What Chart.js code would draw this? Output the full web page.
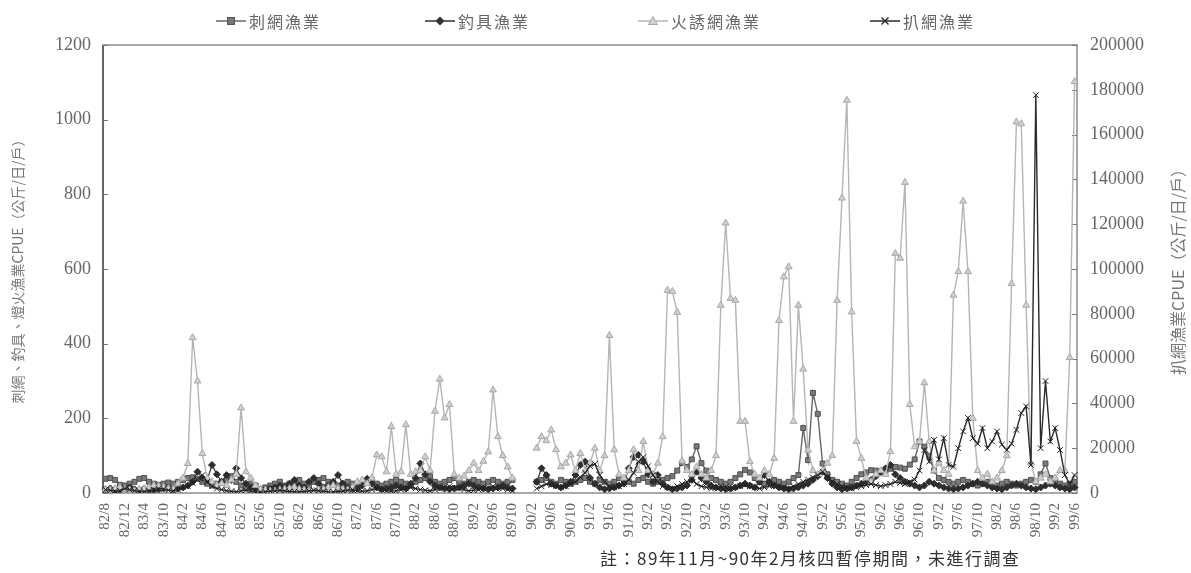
<!DOCTYPE html>
<html lang="zh-Hant">
<head>
<meta charset="utf-8">
<title>各漁業CPUE變動</title>
<script src="https://cdn.jsdelivr.net/npm/chart.js@4.4.1/dist/chart.umd.min.js"></script>
<style>
  html, body { margin: 0; padding: 0; background: #fff; }
  #wrap { position: relative; width: 1191px; height: 573px; overflow: hidden; }
  #chart { position: absolute; left: 0; top: 0; }
  .legend-item { position: absolute; top: 9px; display: flex; align-items: center; font-family: "Noto Sans CJK TC", sans-serif; font-size: 16px; letter-spacing: 2px; color: #666; white-space: nowrap; }
  .legend-item svg { margin-right: 3px; }
  #note { position: absolute; left: 600px; top: 545px; font-family: "Noto Sans CJK TC", sans-serif; font-size: 17px; letter-spacing: 1.5px; color: #333; white-space: nowrap; }
</style>
</head>
<body>
<div id="wrap">
  <canvas id="chart" width="1191" height="573"></canvas>
  <div id="legend"></div>
  <div id="note">註：89年11月~90年2月核四暫停期間，未進行調查</div>
</div>
<script>
(function() {
  'use strict';

  // months without a sample (besides the 89/11-90/2 break, which stays as empty slots)
  var skipMonths = ['83/8', '83/9'];
  var monthLabels = [];
  (function() {
    var y = 82, m = 8;
    while (y < 99 || (y === 99 && m <= 6)) {
      var lab = y + '/' + m;
      if (skipMonths.indexOf(lab) < 0) monthLabels.push(lab);
      m++;
      if (m > 12) { m = 1; y++; }
    }
  })();

  // 刺網漁業 (公斤/日/戶)
  var gillNetCpue = [
    38, 40, 35, 22, 20, 25, 30, 38, 40, 30,
    25, 22, 25, 28, 25, 30, 35, 40, 42, 38,
    30, 25, 20, 25, 30, 35, 45, 30, 20, 15,
    25, 20, 10, 15, 20, 25, 30, 20, 25, 30,
    35, 25, 20, 30, 35, 40, 30, 25, 20, 25,
    30, 25, 20, 25, 30, 35, 25, 20, 25, 30,
    35, 30, 25, 20, 30, 35, 40, 45, 30, 25,
    30, 35, 40, 30, 25, 30, 35, 30, 25, 30,
    35, 30, 25, 30, 35, null, null, null, null, 30,
    35, 40, 30, 25, 35, 30, 25, 30, 35, 40,
    30, 25, 35, 30, 25, 30, 40, 35, 30, 25,
    35, 40, 30, 25, 30, 35, 40, 45, 60, 80,
    70, 90, 125, 80, 60, 40, 35, 30, 25, 30,
    40, 50, 62, 55, 40, 30, 25, 30, 35, 30,
    25, 30, 40, 48, 174, 88, 268, 212, 79, 50,
    35, 30, 25, 20, 30, 40, 50, 55, 61, 60,
    55, 60, 65, 70, 68, 65, 76, 90, 138, 124,
    100, 60, 40, 35, 30, 25, 30, 35, 30, 25,
    20, 25, 30, 25, 20, 25, 30, 25, 20, 25,
    30, 35, 30, 50, 79, 40, 30, 25, 20, 25,
    30
  ];

  // 釣具漁業
  var hookLineCpue = [
    10, 12, 8, 10, 12, 15, 10, 8, 12, 10,
    8, 10, 12, 15, 10, 12, 15, 20, 30, 57,
    40, 35, 75, 50, 30, 48, 35, 66, 40, 25,
    15, 10, 8, 10, 12, 15, 20, 15, 25, 35,
    20, 15, 30, 40, 25, 15, 20, 30, 48, 25,
    15, 10, 12, 20, 38, 25, 15, 10, 12, 15,
    20, 15, 12, 25, 40, 79, 50, 30, 20, 15,
    12, 10, 12, 15, 20, 25, 20, 15, 12, 10,
    12, 15, 20, 15, 12, null, null, null, null, 30,
    66, 48, 25, 20, 15, 20, 30, 48, 75, 84,
    40, 25, 15, 10, 12, 15, 20, 25, 66, 97,
    102, 84, 50, 30, 48, 25, 15, 10, 12, 15,
    20, 35, 57, 40, 30, 20, 15, 12, 10, 12,
    15, 20, 25, 20, 15, 30, 48, 30, 20, 15,
    12, 10, 12, 15, 20, 25, 35, 45, 57, 40,
    25, 15, 10, 12, 15, 20, 25, 30, 35, 45,
    57, 66, 75, 50, 40, 30, 25, 20, 15, 20,
    30, 25, 20, 15, 12, 10, 12, 15, 20, 25,
    30, 25, 20, 15, 12, 10, 15, 20, 25, 20,
    15, 12, 10, 15, 20, 25, 20, 15, 12, 10,
    15
  ];

  // 火誘網漁業
  var fireNetCpue = [
    10, 8, 12, 15, 10, 8, 6, 10, 12, 15,
    20, 18, 15, 12, 10, 25, 40, 79, 416, 300,
    106, 40, 30, 20, 25, 20, 35, 50, 228, 57,
    40, 20, 10, 8, 5, 5, 8, 10, 12, 15,
    10, 8, 5, 5, 8, 10, 15, 20, 12, 10,
    8, 15, 30, 35, 25, 40, 102, 97, 57, 178,
    50, 57, 183, 50, 57, 60, 97, 60, 219, 305,
    201, 237, 50, 40, 45, 60, 80, 60, 85, 110,
    276, 151, 100, 70, 40, null, null, null, null, 120,
    151, 140, 169, 116, 70, 80, 102, 60, 106, 60,
    80, 120, 60, 100, 422, 116, 50, 40, 60, 116,
    60, 138, 60, 50, 80, 151, 543, 540, 484, 86,
    60, 50, 70, 50, 40, 60, 100, 503, 723, 521,
    516, 192, 192, 84, 50, 40, 60, 50, 93, 462,
    579, 606, 192, 503, 332, 115, 60, 50, 60, 80,
    100, 516, 790, 1052, 485, 138, 93, 40, 30, 50,
    60, 50, 111, 642, 629, 832, 237, 124, 138, 295,
    138, 60, 80, 60, 50, 530, 593, 782, 593, 200,
    60, 40, 50, 30, 40, 60, 100, 561, 994, 989,
    503, 80, 30, 40, 50, 30, 40, 60, 60, 363,
    1102
  ];

  // 扒網漁業 (right axis)
  var purseSeineCpue = [
    1500, 1200, 800, 1000, 2000, 1500, 1000, 800, 600, 1000,
    1500, 2000, 1800, 1200, 1000, 1500, 2500, 3000, 4500, 6000,
    8000, 5000, 3000, 2000, 1500, 1000, 800, 600, 1000, 1200,
    800, 500, 400, 600, 800, 1000, 1200, 900, 700, 600,
    500, 700, 900, 1200, 1000, 800, 600, 500, 700, 900,
    1200, 1500, 1000, 800, 1000, 1500, 2000, 1500, 1000, 800,
    1000, 1500, 2000, 2500, 2000, 1500, 1200, 1000, 1500, 2000,
    2500, 3000, 2500, 2000, 1500, 1000, 1200, 1500, 2000, 2500,
    3000, 2500, 2000, 1500, 1000, null, null, null, null, 2000,
    3000, 4000, 3500, 3000, 2500, 3000, 4000, 5000, 7000, 9000,
    12000, 13000, 8000, 5000, 3000, 2500, 3000, 4000, 6000, 9000,
    14000, 16000, 12000, 8000, 5000, 3000, 2500, 2000, 3000, 4000,
    5000, 6000, 4000, 3000, 2500, 2000, 2500, 3000, 2500, 2000,
    2500, 3000, 3500, 3000, 2500, 2000, 2500, 3000, 3500, 3000,
    2500, 2000, 3000, 4000, 5000, 6000, 7000, 8000, 9500, 7000,
    5000, 4000, 3000, 2500, 2000, 2500, 3000, 3500, 4000, 3500,
    3000, 3500, 4000, 5000, 4500, 4000, 5000, 6000, 10000, 19200,
    14000, 23700, 15000, 24500, 12500, 11700, 20000, 27500, 33500, 24500,
    22000, 29000, 20000, 23000, 27500, 21600, 19200, 22000, 28200, 35700,
    38700, 12500, 177600, 20000, 50000, 23000, 29000, 19200, 8000, 4000,
    8000
  ];

  var seriesNames = ['刺網漁業', '釣具漁業', '火誘網漁業', '扒網漁業'];
  var leftTitle = '刺網、釣具、燈火漁業CPUE（公斤/日/戶）';
  var rightTitle = '扒網漁業CPUE（公斤/日/戶）';

  [gillNetCpue, hookLineCpue, fireNetCpue, purseSeineCpue].forEach(function(arr, i) {
    if (arr.length !== monthLabels.length) {
      throw new Error('length mismatch ' + seriesNames[i] + ': ' + arr.length + ' vs ' + monthLabels.length);
    }
  });

  var styles = [
    { line: '#666666', fill: '#7a7a7a', edge: '#505050', point: 'rect', radius: 3.5, width: 1.4 },
    { line: '#333333', fill: '#2e2e2e', edge: '#2e2e2e', point: 'rectRot', radius: 3.5, width: 1.2 },
    { line: '#b5b5b5', fill: '#cfcfcf', edge: '#a8a8a8', point: 'triangle', radius: 4, width: 1.4 },
    { line: '#2a2a2a', fill: '#2a2a2a', edge: '#1e1e1e', point: 'crossRot', radius: 4, width: 1.4 }
  ];
  var legendLeft = [216, 425, 638, 870];
  var legendIcons = [
    '<rect x="11.5" y="3.5" width="7" height="7" fill="#777" stroke="#555"/>',
    '<polygon points="15,2.5 19.5,7 15,11.5 10.5,7" fill="#333"/>',
    '<polygon points="15,2.5 19.5,10.5 10.5,10.5" fill="#d0d0d0" stroke="#aaa"/>',
    '<path d="M11.5 3.5 L18.5 10.5 M18.5 3.5 L11.5 10.5" stroke="#222" stroke-width="1.3"/>'
  ];

  function renderLegend() {
    var box = document.getElementById('legend');
    box.innerHTML = seriesNames.map(function(name, i) {
      return '<div class="legend-item" style="left:' + legendLeft[i] + 'px">' +
        '<svg width="30" height="14" viewBox="0 0 30 14"><line x1="0" y1="7" x2="30" y2="7" stroke="' + styles[i].line + '" stroke-width="1.5"/>' + legendIcons[i] + '</svg>' +
        '<span>' + name + '</span></div>';
    }).join('');
  }

  function makeDataset(label, data, st, axis, order) {
    return {
      label: label,
      data: data,
      yAxisID: axis,
      order: order,
      borderColor: st.line,
      borderWidth: st.width,
      backgroundColor: st.fill,
      pointStyle: st.point,
      pointRadius: st.radius,
      pointBackgroundColor: st.fill,
      pointBorderColor: st.edge,
      pointBorderWidth: 1,
      pointHoverRadius: st.radius,
      tension: 0,
      spanGaps: false,
      fill: false
    };
  }

  function plainNumber(value) {
    return String(value);
  }

  var framePlugin = {
    id: 'frame',
    beforeDatasetsDraw: function(chart) {
      var a = chart.chartArea;
      var ctx = chart.ctx;
      ctx.save();
      ctx.strokeStyle = '#8c8c8c';
      ctx.lineWidth = 1.5;
      ctx.strokeRect(a.left, a.top, a.right - a.left, a.bottom - a.top);
      ctx.strokeStyle = '#666';
      ctx.lineWidth = 2;
      ctx.beginPath();
      ctx.moveTo(a.left, a.top);
      ctx.lineTo(a.left, a.bottom);
      ctx.stroke();
      // small inward tick marks
      ctx.strokeStyle = '#777';
      ctx.lineWidth = 1;
      ctx.beginPath();
      chart.scales.y.ticks.forEach(function(t) {
        var py = Math.round(chart.scales.y.getPixelForValue(t.value)) + 0.5;
        ctx.moveTo(a.left, py);
        ctx.lineTo(a.left + 5, py);
      });
      chart.scales.y1.ticks.forEach(function(t) {
        var py = Math.round(chart.scales.y1.getPixelForValue(t.value)) + 0.5;
        ctx.moveTo(a.right - 5, py);
        ctx.lineTo(a.right, py);
      });
      ctx.stroke();
      ctx.restore();
    },
    afterDraw: function(chart) {
      var ctx = chart.ctx;
      var midY = 268;
      ctx.save();
      ctx.fillStyle = '#777';
      ctx.textAlign = 'center';
      ctx.textBaseline = 'middle';
      ctx.font = '14px "Noto Sans CJK TC", sans-serif';
      ctx.translate(18, midY);
      ctx.rotate(-Math.PI / 2);
      ctx.fillText(leftTitle, 0, 0);
      ctx.restore();
      ctx.save();
      ctx.fillStyle = '#777';
      ctx.textAlign = 'center';
      ctx.textBaseline = 'middle';
      ctx.font = '16px "Noto Sans CJK TC", sans-serif';
      ctx.translate(1178, midY);
      ctx.rotate(-Math.PI / 2);
      ctx.fillText(rightTitle, 0, 0);
      ctx.restore();
    }
  };

  var tickFont = { family: '"Liberation Serif", "DejaVu Serif", serif', size: 18 };

  renderLegend();

  new Chart(document.getElementById('chart'), {
    type: 'line',
    data: {
      labels: monthLabels,
      datasets: [
        makeDataset(seriesNames[0], gillNetCpue, styles[0], 'y', 3),
        makeDataset(seriesNames[1], hookLineCpue, styles[1], 'y', 2),
        makeDataset(seriesNames[2], fireNetCpue, styles[2], 'y', 1),
        makeDataset(seriesNames[3], purseSeineCpue, styles[3], 'y1', 0)
      ]
    },
    options: {
      responsive: false,
      animation: false,
      events: [],
      layout: { padding: { left: 0, right: 0, top: 45, bottom: 0 } },
      plugins: { legend: { display: false }, tooltip: { enabled: false } },
      scales: {
        x: {
          type: 'category',
          offset: true,
          grid: { display: false, drawTicks: false },
          border: { display: false },
          ticks: {
            autoSkip: false,
            minRotation: 90,
            maxRotation: 90,
            padding: 10,
            color: '#666',
            font: { family: '"Liberation Serif", "DejaVu Serif", serif', size: 15 },
            callback: function(value, index) {
              return index % 4 === 0 ? this.getLabelForValue(value) : '';
            }
          },
          afterFit: function(scale) { scale.height = 80; }
        },
        y: {
          position: 'left',
          min: 0,
          max: 1200,
          grid: { display: false, drawTicks: false },
          border: { display: false },
          ticks: { stepSize: 200, padding: 12, color: '#666', font: tickFont, callback: plainNumber },
          afterFit: function(scale) { scale.width = 103; }
        },
        y1: {
          position: 'right',
          min: 0,
          max: 200000,
          grid: { display: false, drawTicks: false },
          border: { display: false },
          ticks: { stepSize: 20000, padding: 13, color: '#666', font: tickFont, callback: plainNumber },
          afterFit: function(scale) { scale.width = 114; }
        }
      }
    },
    plugins: [framePlugin]
  });
})();
</script>
</body>
</html>
